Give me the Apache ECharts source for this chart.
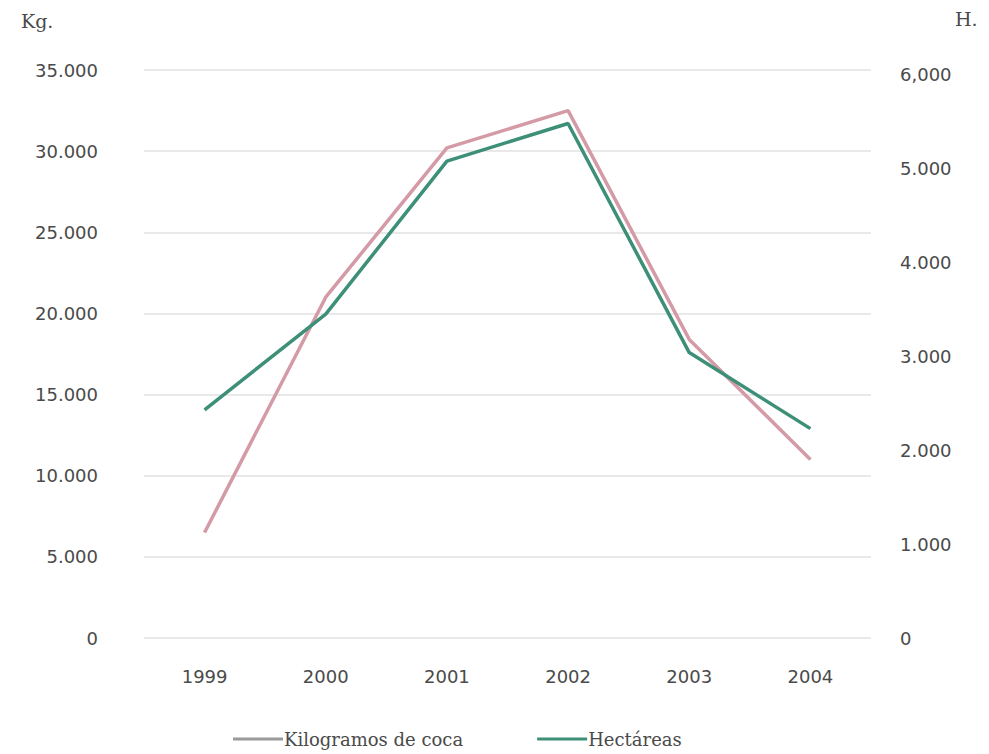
<!DOCTYPE html>
<html>
<head>
<meta charset="utf-8">
<script src="https://cdn.jsdelivr.net/npm/echarts@6/dist/echarts.min.js"></script>
<style>
  html, body { margin: 0; padding: 0; background: #fff; }
  #chart { width: 989px; height: 754px; }
</style>
</head>
<body>
<div id="chart"></div>
<script>
"use strict";

// Data.
const years = ["1999", "2000", "2001", "2002", "2003", "2004"];
const kilos = [6500, 21000, 30200, 32500, 18400, 11000];      // Kg., left axis
const hectares = [2430, 3450, 5080, 5480, 3040, 2230];        // H., right axis
const kgTicks = ["0", "5.000", "10.000", "15.000", "20.000", "25.000", "30.000", "35.000"];
const haTicks = ["0", "1.000", "2.000", "3.000", "4.000", "5.000", "6,000"];

const INK = "#4a4a4a", GRID = "#e9e9e9";
const SANS = "'DejaVu Sans', 'Noto Sans', sans-serif";
const SERIF = "'DejaVu Serif', 'Liberation Serif', serif";
const PINK = "#d49aa6", GREEN = "#3d8f78", LEGEND_GREY = "#9a9a9a";

const chart = echarts.init(document.getElementById("chart"), null, { renderer: "svg" });

chart.setOption({
  animation: false,
  textStyle: { fontFamily: SANS, color: INK },
  grid: { left: 144, right: 118, top: 70, bottom: 116 },
  graphic: [
    { type: "text", left: 21, top: 11, style: { text: "Kg.", font: "19px " + SERIF, fill: INK } },
    { type: "text", left: 955, top: 9, style: { text: "H.", font: "19px " + SERIF, fill: INK } },
  ],
  legend: {
    bottom: 1,
    left: 228,
    itemWidth: 50,
    itemHeight: 3,
    itemGap: 74,
    icon: "rect",
    textStyle: { fontFamily: SERIF, fontSize: 18, color: INK, padding: [0, 0, 0, -4] },
    data: [
      { name: "Kilogramos de coca", itemStyle: { color: LEGEND_GREY } },
      { name: "Hectáreas", itemStyle: { color: GREEN } },
    ],
  },
  xAxis: {
    type: "category",
    data: years,
    boundaryGap: true,
    axisLine: { show: false },
    axisTick: { show: false },
    axisLabel: { color: INK, fontSize: 18, margin: 29 },
  },
  yAxis: [
    {
      type: "value",
      min: 0, max: 35000, interval: 5000,
      axisLine: { show: false },
      axisTick: { show: false },
      axisLabel: {
        color: INK, fontSize: 18, margin: 46,
        formatter: (v) => kgTicks[v / 5000] || "",
      },
      splitLine: { lineStyle: { color: GRID, width: 2 } },
    },
    {
      type: "value",
      min: 0, max: 6050, interval: 1000,
      axisLine: { show: false },
      axisTick: { show: false },
      axisLabel: {
        color: INK, fontSize: 18, margin: 29,
        formatter: (v) => (v % 1000 === 0 ? haTicks[v / 1000] : ""),
      },
      splitLine: { show: false },
    },
  ],
  series: [
    {
      name: "Kilogramos de coca",
      type: "line",
      yAxisIndex: 0,
      data: kilos,
      symbol: "none",
      color: PINK,
      lineStyle: { color: PINK, width: 3.5 },
    },
    {
      name: "Hectáreas",
      type: "line",
      yAxisIndex: 1,
      data: hectares,
      symbol: "none",
      color: GREEN,
      lineStyle: { color: GREEN, width: 3.5 },
    },
  ],
});
</script>
</body>
</html>
